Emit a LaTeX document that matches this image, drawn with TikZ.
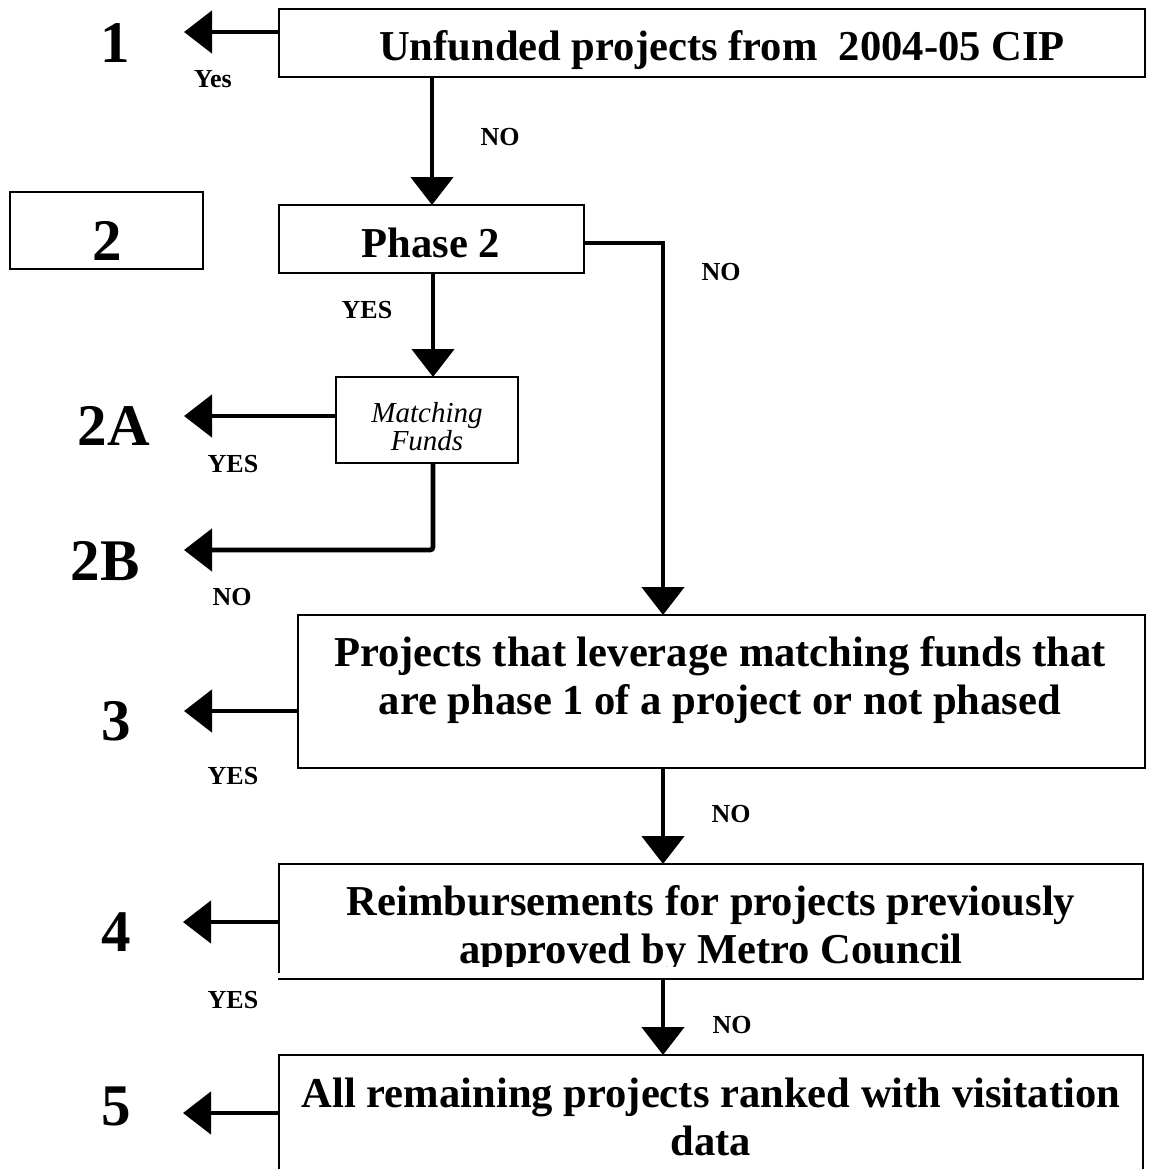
\documentclass[tikz,border=0pt]{standalone}
\usepackage{fontspec}
\setmainfont{Liberation Serif}
\usetikzlibrary{arrows.meta}
\tikzset{
  box/.style={draw, line width=1.1pt, inner sep=0pt, outer sep=0pt},
  boxtext/.style={font=\bfseries\fontsize{21.3pt}{24pt}\selectfont, align=center, inner sep=0pt},
  mftext/.style={font=\itshape\fontsize{14.5pt}{14pt}\selectfont, align=center, inner sep=0pt},
  bignum/.style={font=\bfseries\fontsize{29.5pt}{30pt}\selectfont, inner sep=0pt, anchor=base},
  lbl/.style={font=\bfseries\fontsize{13pt}{14pt}\selectfont, inner sep=0pt, anchor=base},
  arr/.style={line width=2.4pt, -{Triangle[length=14pt,width=21pt]}},
}
\begin{document}
\begin{tikzpicture}[x=0.5pt,y=-0.5pt]
\useasboundingbox (0,0) rectangle (1163,1169);
\clip (0,0) rectangle (1163,1169);

% columns and free arrow ends
\coordinate (c0) at (432,0);
\coordinate (c1) at (433,0);
\coordinate (c2) at (663,0);
\coordinate (t1) at (184,32);
\coordinate (t2a) at (184,416);
\coordinate (t2b) at (184,550);
\coordinate (t3) at (184,711);
\coordinate (t4) at (183,922);
\coordinate (t5) at (183,1113);

% boxes
\node[box, minimum width=433pt, minimum height=34pt] (b1) at (712,43) {};
\node[box, minimum width=96.5pt, minimum height=38.5pt] (bl2) at (106.5,230.5) {};
\node[box, minimum width=152.5pt, minimum height=34pt] (p2) at (431.5,239) {};
\node[box, minimum width=91pt, minimum height=43pt] (mf) at (427,420) {};
\node[box, minimum width=423.5pt, minimum height=76.5pt] (b3) at (721.5,691.5) {};
\node[box, minimum width=432pt, minimum height=57.5pt] (b4) at (711,921.5) {};
\node[box, minimum width=432pt, minimum height=72.5pt] (b5) at (711,1127.5) {};

% box texts
\node[boxtext, anchor=base] (b1t) at (722,60) {Unfunded projects from\ \ 2004-05 CIP};
\node[boxtext, anchor=base] (p2t) at (431,257) {Phase 2};
\node[mftext] (mft) at (427,427) {Matching\\Funds};
\node[boxtext] (b3t) at (720,680) {Projects that leverage matching funds that\\are phase 1 of a project or not phased};
\node[boxtext] (b4t) at (711,929) {Reimbursements for projects previously\\approved by Metro Council};
\node[boxtext] (b5t) at (711,1116.5) {All remaining projects ranked with visitation\\data};

% clipped bottom of box 4 text
\fill[white] (281,967) rectangle (1140,977);
\fill[white] (275,973) rectangle (282,977.5);

% big numbers
\node[bignum] (n1) at (115,62) {1};
\node[bignum] (n2) at (107,260) {2};
\node[bignum] (n2a) at (114,445) {2A};
\node[bignum] (n2b) at (105,580) {2B};
\node[bignum] (n3) at (116,740) {3};
\node[bignum] (n4) at (116,951) {4};
\node[bignum] (n5) at (116,1125) {5};

% connectors
\draw[arr] (b1.west |- t1) -- (t1);
\draw[arr] (b1.south -| c0) -- (p2.north -| c0);
\draw[arr] (p2.south -| c1) -- (mf.north -| c1);
\draw[arr] ([yshift=-2pt]p2.east) -| (b3.north -| c2);
\draw[arr] (mf.west |- t2a) -- (t2a);
\draw[arr, rounded corners=1.5pt] (mf.south -| c1) |- (t2b);
\draw[arr] (b3.west |- t3) -- (t3);
\draw[arr] (b3.south -| c2) -- (b4.north -| c2);
\draw[arr] (b4.west |- t4) -- (t4);
\draw[arr] (b4.south -| c2) -- (b5.north -| c2);
\draw[arr] (b5.west |- t5) -- (t5);

% labels
\node[lbl] (l1) at (213,87) {Yes};
\node[lbl] (l2) at (500,145) {NO};
\node[lbl] (l3) at (721,280) {NO};
\node[lbl] (l4) at (367,318) {YES};
\node[lbl] (l5) at (233,472) {YES};
\node[lbl] (l6) at (232,605) {NO};
\node[lbl] (l7) at (233,784) {YES};
\node[lbl] (l8) at (731,822) {NO};
\node[lbl] (l9) at (233,1008) {YES};
\node[lbl] (l10) at (732,1033) {NO};
\end{tikzpicture}
\end{document}
